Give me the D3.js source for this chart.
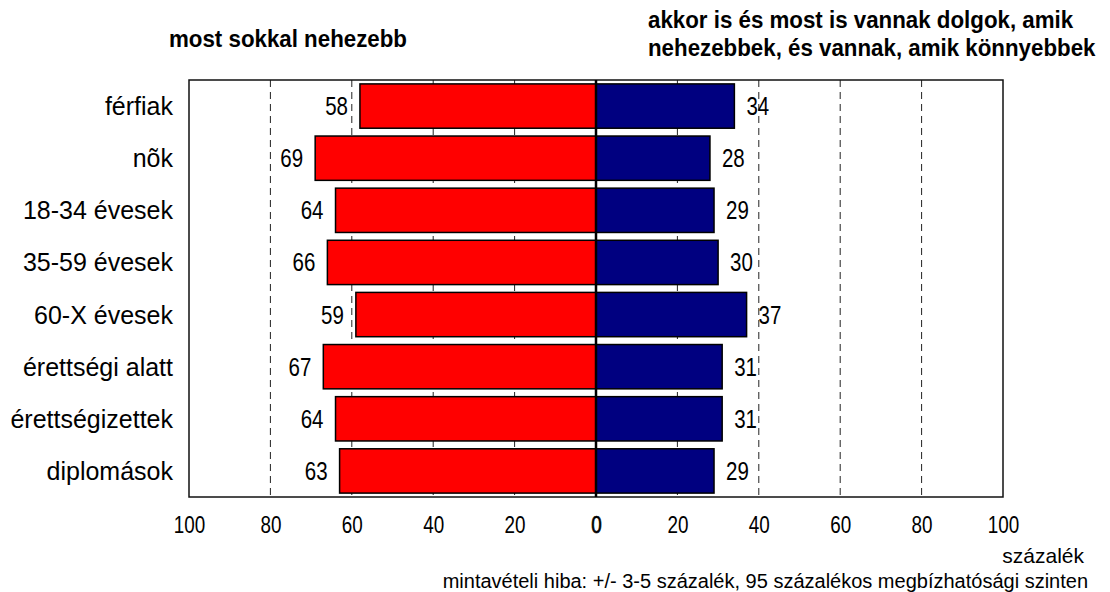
<!DOCTYPE html>
<html>
<head>
<meta charset="utf-8">
<script src="https://cdn.jsdelivr.net/npm/d3@7"></script>
<style>
  body { margin: 0; background: #fff; }
  text { font-family: "Liberation Sans", Arial, sans-serif; fill: #000; }
</style>
</head>
<body>
<svg width="1110" height="592"></svg>
<script>
var width = 1110, height = 592;

var categories = ["férfiak", "nõk", "18-34 évesek", "35-59 évesek", "60-X évesek",
                  "érettségi alatt", "érettségizettek", "diplomások"];
var harderNow = [58, 69, 64, 66, 59, 67, 64, 63];
var mixedAnswers = [34, 28, 29, 30, 37, 31, 31, 29];
var tickValues = [-100, -80, -60, -40, -20, 0, 20, 40, 60, 80, 100];
var gridValues = [-80, -60, -40, -20, 20, 40, 60, 80];

var svg = d3.select('svg');

var x = d3.scaleLinear()
    .domain([-100, 100])
    .range([189, 1003]);

var y = d3.scaleBand()
    .domain(categories)
    .range([80, 497])
    .paddingInner(0.15)
    .paddingOuter(0.075);

// dashed gridlines behind the bars
svg.append('g')
    .selectAll('line')
    .data(gridValues)
    .enter()
    .append('line')
    .attr('x1', function(d) { return x(d); })
    .attr('x2', function(d) { return x(d); })
    .attr('y1', 80)
    .attr('y2', 497)
    .attr('stroke', '#222')
    .attr('stroke-width', 1)
    .attr('stroke-dasharray', '7,5');

// red bars (left)
svg.append('g')
    .selectAll('rect')
    .data(harderNow)
    .enter()
    .append('rect')
    .attr('x', function(d) { return x(-d); })
    .attr('y', function(d, i) { return y(categories[i]); })
    .attr('width', function(d) { return x(0) - x(-d); })
    .attr('height', y.bandwidth())
    .attr('fill', '#ff0000')
    .attr('stroke', '#000')
    .attr('stroke-width', 1.5);

// blue bars (right)
svg.append('g')
    .selectAll('rect')
    .data(mixedAnswers)
    .enter()
    .append('rect')
    .attr('x', x(0))
    .attr('y', function(d, i) { return y(categories[i]); })
    .attr('width', function(d) { return x(d) - x(0); })
    .attr('height', y.bandwidth())
    .attr('fill', '#000080')
    .attr('stroke', '#000')
    .attr('stroke-width', 1.5);

// frame and zero line
svg.append('rect')
    .attr('x', x(-100))
    .attr('y', 80)
    .attr('width', x(100) - x(-100))
    .attr('height', 417)
    .attr('fill', 'none')
    .attr('stroke', '#111')
    .attr('stroke-width', 1.5);

svg.append('line')
    .attr('x1', x(0)).attr('x2', x(0))
    .attr('y1', 80).attr('y2', 497)
    .attr('stroke', '#000')
    .attr('stroke-width', 2.5);

// value labels, narrow look
svg.append('g')
    .selectAll('text')
    .data(harderNow)
    .enter()
    .append('text')
    .attr('transform', function(d, i) {
        return 'translate(' + (x(-d) - 12) + ',' + (y(categories[i]) + y.bandwidth() / 2) + ')scale(0.82,1)';
    })
    .attr('dy', '0.36em')
    .attr('text-anchor', 'end')
    .style('font-size', '25px')
    .text(function(d) { return d; });

svg.append('g')
    .selectAll('text')
    .data(mixedAnswers)
    .enter()
    .append('text')
    .attr('transform', function(d, i) {
        return 'translate(' + (x(d) + 12) + ',' + (y(categories[i]) + y.bandwidth() / 2) + ')scale(0.82,1)';
    })
    .attr('dy', '0.36em')
    .attr('text-anchor', 'start')
    .style('font-size', '25px')
    .text(function(d) { return d; });

// category labels
svg.append('g')
    .selectAll('text')
    .data(categories)
    .enter()
    .append('text')
    .attr('x', 173)
    .attr('y', function(d) { return y(d) + y.bandwidth() / 2; })
    .attr('dy', '0.36em')
    .attr('text-anchor', 'end')
    .style('font-size', '25px')
    .text(function(d) { return d; });

// bottom axis
var xAxis = d3.axisBottom(x)
    .tickValues(tickValues)
    .tickSize(0)
    .tickFormat(function(d) { return Math.abs(d); });

var axisG = svg.append('g')
    .attr('transform', 'translate(0,497)')
    .call(xAxis);
axisG.select('.domain').remove();
axisG.selectAll('text')
    .attr('y', 36)
    .attr('dy', 0)
    .attr('transform', 'scale(0.82,1)')
    .style('font-family', '"Liberation Sans", Arial, sans-serif')
    .style('font-size', '23px')
    .style('fill', '#000')
    .style('stroke', function(d) { return d === 0 ? '#000' : 'none'; })
    .style('stroke-width', 0.7);

// titles
svg.append('text')
    .attr('transform', 'translate(169,47)scale(0.93,1)')
    .style('font-size', '24px')
    .style('font-weight', 'bold')
    .text('most sokkal nehezebb');

var rightTitle = ['akkor is és most is vannak dolgok, amik',
                  'nehezebbek, és vannak, amik könnyebbek'];
svg.append('g')
    .selectAll('text')
    .data(rightTitle)
    .enter()
    .append('text')
    .attr('transform', function(d, i) { return 'translate(648,' + (28 + i * 28) + ')scale(0.93,1)'; })
    .style('font-size', '24px')
    .style('font-weight', 'bold')
    .text(function(d) { return d; });

// unit and footnote
svg.append('text')
    .attr('x', 1084)
    .attr('y', 563)
    .attr('text-anchor', 'end')
    .style('font-size', '21px')
    .text('százalék');

svg.append('text')
    .attr('x', 1088)
    .attr('y', 588)
    .attr('text-anchor', 'end')
    .style('font-size', '20px')
    .text('mintavételi hiba: +/- 3-5 százalék, 95 százalékos megbízhatósági szinten');
</script>
</body>
</html>
